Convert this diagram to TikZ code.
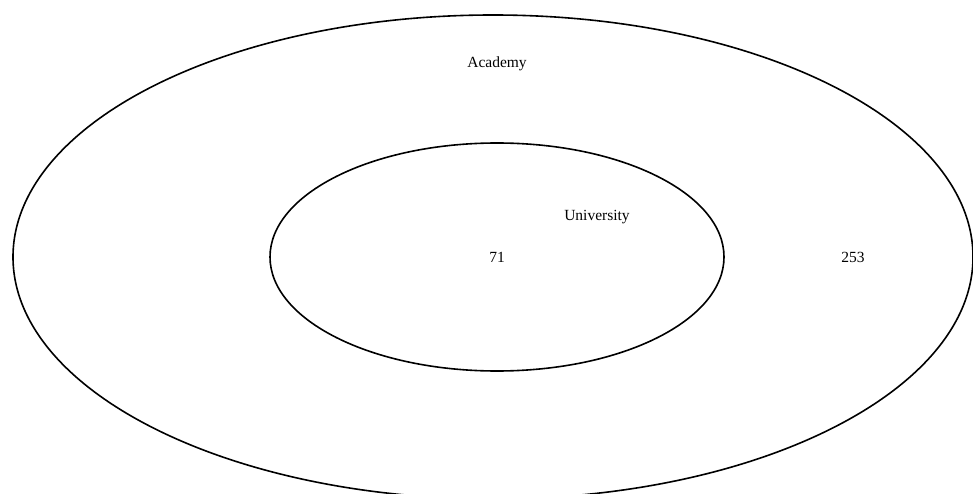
\documentclass[tikz,border=0pt]{standalone}
\usepackage{fontspec}
\setmainfont{Liberation Serif}
\begin{document}
\begin{tikzpicture}[x=1pt,y=-1pt,
  setline/.style={draw=black,line width=1.6pt},
  lbl/.style={font=\fontsize{15.5}{18}\selectfont,inner sep=0pt}]
\useasboundingbox (0,0) rectangle (973,494);
\begin{scope}
\clip (0,0) rectangle (973,494);
\draw[setline] (493,257) ellipse [x radius=480, y radius=242];
\end{scope}
\draw[setline] (497,257) ellipse [x radius=227, y radius=114];
\node[lbl] (academy) at (497,64) {Academy};
\node[lbl] (university) at (597,217) {University};
\node[lbl] (n71) at (497,257) {71};
\node[lbl] (n253) at (853,257) {253};
\end{tikzpicture}
\end{document}
